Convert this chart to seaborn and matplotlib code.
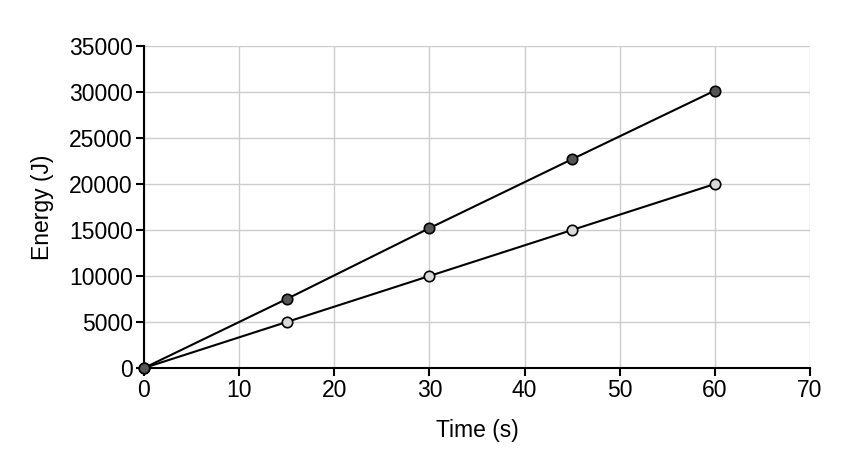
import numpy as np
import pandas as pd
import matplotlib
matplotlib.use('Agg')
import matplotlib.pyplot as plt
import seaborn as sns

# data
time_s = [0, 15, 30, 45, 60]
energy_dark = [0, 7500, 15200, 22700, 30150]
energy_light = [0, 5000, 10000, 15000, 20000]

df = pd.DataFrame({'time': time_s * 2,
                   'energy': energy_dark + energy_light,
                   'series': ['dark'] * 5 + ['light'] * 5})

sns.set_style('whitegrid', {'text.color': 'black', 'axes.labelcolor': 'black',
                            'xtick.color': 'black', 'ytick.color': 'black'})
plt.rcParams['font.family'] = ['Liberation Sans', 'DejaVu Sans']

fig = plt.figure(figsize=(8.54, 4.58), dpi=100)
ax = fig.add_axes([0.1686, 0.1965, 0.7799, 0.7031])

faces = {'dark': '#555555', 'light': '#d9d9d9'}
for name in ['light', 'dark']:
    sub = df[df['series'] == name]
    sns.lineplot(data=sub, x='time', y='energy', ax=ax, color='black',
                 linewidth=1.5, marker='o', markersize=7.5,
                 markerfacecolor=faces[name], markeredgecolor='black',
                 markeredgewidth=1.2, zorder=3, clip_on=False)

ax.set_xlim(0, 70)
ax.set_ylim(0, 35000)
ax.set_xticks(range(0, 71, 10))
ax.set_yticks(range(0, 35001, 5000))
ax.set_xlabel('Time (s)', fontsize=16.5, labelpad=12)
ax.set_ylabel('Energy (J)', fontsize=16.5, labelpad=11)
ax.tick_params(labelsize=16.5, length=6, width=1.5, color='black',
               direction='out', bottom=True, left=True, pad=2)
ax.grid(True, color='#cccccc', linewidth=1)
for s in ['top', 'right']:
    ax.spines[s].set_visible(False)
for s in ['left', 'bottom']:
    ax.spines[s].set_color('black')
    ax.spines[s].set_linewidth(1.5)

fig.savefig('out.png', dpi=100)
